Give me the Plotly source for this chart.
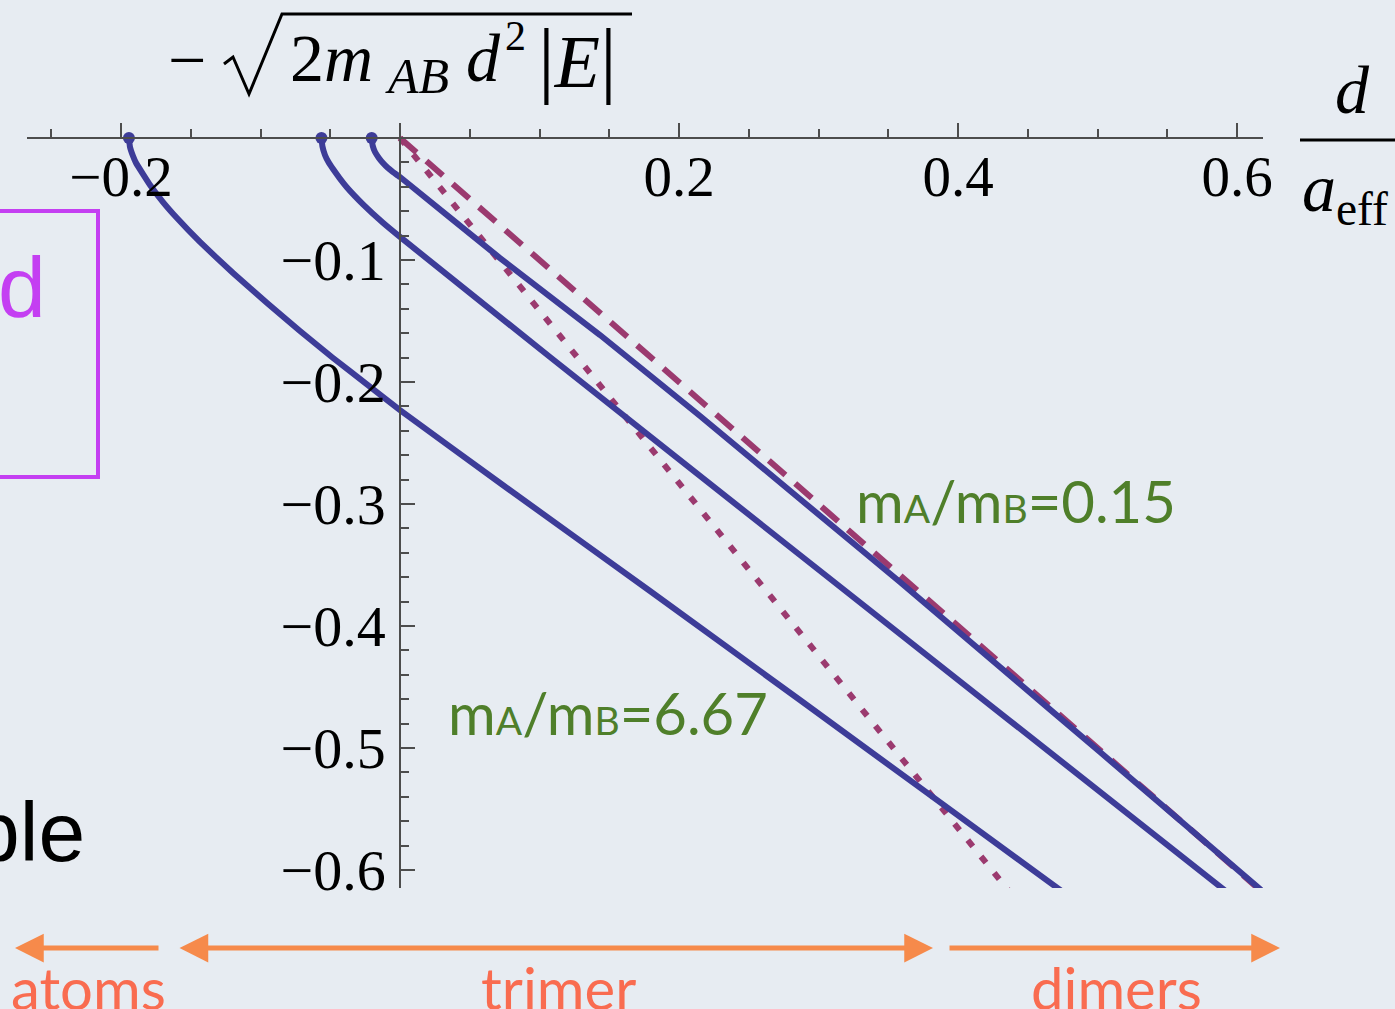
import plotly.graph_objects as go

# ---- data -------------------------------------------------------------
# trimer branches, -sqrt(2 m_AB d^2 |E|) against d/a_eff
heavy_x = [-0.1943, -0.1936, -0.1914, -0.1892, -0.1792, -0.1699, -0.1599, -0.1434,
           -0.1197, -0.0953, -0.0717, -0.0480, -0.0237, 0.0, 0.0717, 0.1792, 0.2867,
           0.4717, 0.4800]
heavy_y = [0.0, -0.0070, -0.0148, -0.0205, -0.0385, -0.0525, -0.0656, -0.0852,
           -0.1107, -0.1352, -0.1582, -0.1803, -0.2020, -0.2230, -0.2828, -0.3713, -0.4607,
           -0.6151, -0.6220]

mid_x = [-0.0563, -0.0556, -0.0538, -0.0513, -0.0480, -0.0434, -0.0380, -0.0265,
         -0.0122, 0.0, 0.1075, 0.2867, 0.5892, 0.6000]
mid_y = [0.0, -0.0069, -0.0139, -0.0197, -0.0254, -0.0328, -0.0406, -0.0544,
         -0.0695, -0.0811, -0.1795, -0.3418, -0.6148, -0.6246]

light_x = [-0.0203, -0.0196, -0.0179, -0.0153, -0.0122, -0.0088, -0.0050, 0.0, 0.0717,
           0.1434, 0.2151, 0.2867, 0.3584, 0.4301, 0.5018, 0.6165, 0.6200]
light_y = [0.0, -0.0061, -0.0115, -0.0161, -0.0205, -0.0244, -0.0279, -0.0320, -0.0984,
           -0.1615, -0.2279, -0.2959, -0.3639, -0.4336, -0.5033, -0.6156, -0.6191]

# thresholds
dimer_x = [0.0, 0.62]
dimer_y = [0.0, -0.62]
heavy_dimer_x = [0.0, 0.44]
heavy_dimer_y = [0.0, -0.6222]

# ticks
x_major = [-0.2, 0.0, 0.2, 0.4, 0.6]
x_major_text = ["\u22120.2", "", "0.2", "0.4", "0.6"]
x_minor = [-0.25, -0.15, -0.1, -0.05, 0.05, 0.1, 0.15, 0.25, 0.3, 0.35, 0.45, 0.5, 0.55]
y_major = [-0.1, -0.2, -0.3, -0.4, -0.5, -0.6]
y_major_text = ["\u22120.1", "\u22120.2", "\u22120.3", "\u22120.4", "\u22120.5", "\u22120.6"]
y_minor = [-0.02, -0.04, -0.06, -0.08, -0.12, -0.14, -0.16, -0.18, -0.22, -0.24, -0.26,
           -0.28, -0.32, -0.34, -0.36, -0.38, -0.42, -0.44, -0.46, -0.48, -0.52, -0.54,
           -0.56, -0.58]

ratio_labels = ["m<span style='font-size:39px'>A</span>/m<span style='font-size:39px'>B</span>=0.15",
                "m<span style='font-size:39px'>A</span>/m<span style='font-size:39px'>B</span>=6.67"]
region_labels = ["atoms", "trimer", "dimers"]

# ---- layout geometry --------------------------------------------------
W, H = 1395, 1009
L, R, T, B = 27, 1263, 123, 888          # plot box in pixels
X0, Y0 = 400, 138                         # pixel position of the origin
SX, SY = 1395.0, 1220.0                   # pixels per unit

x_range = [(L - X0) / SX, (R - X0) / SX]
y_range = [(Y0 - B) / SY, (Y0 - T) / SY]


def px(x):
    return (x - L) / (R - L)


def py(y):
    return (B - y) / (B - T)


BLUE = "#3d3c98"
MAROON = "#9b3a6f"
GREEN = "#4f7f2a"
ORANGE = "#f68a4b"
ORANGE_TXT = "#f96c50"
PURPLE = "#c43ff2"
AXIS = "#4d4d4d"
BG = "#e7ecf2"
SERIF = "Liberation Serif"

fig = go.Figure()

fig.add_trace(go.Scatter(x=dimer_x, y=dimer_y, mode="lines",
                         line=dict(color=MAROON, width=6, dash="22px,13px")))
fig.add_trace(go.Scatter(x=heavy_dimer_x, y=heavy_dimer_y, mode="lines",
                         line=dict(color=MAROON, width=6, dash="8px,13px")))
for xs, ys in [(heavy_x, heavy_y), (mid_x, mid_y), (light_x, light_y)]:
    fig.add_trace(go.Scatter(x=xs, y=ys, mode="lines",
                             line=dict(color=BLUE, width=6, shape="spline", smoothing=0.3)))
    fig.add_trace(go.Scatter(x=[xs[0]], y=[ys[0]], mode="markers",
                             marker=dict(color=BLUE, size=12)))

x_pos = (0 - y_range[0]) / (y_range[1] - y_range[0])
y_pos = (0 - x_range[0]) / (x_range[1] - x_range[0])

fig.update_layout(
    width=W, height=H,
    margin=dict(l=L, r=W - R, t=T, b=H - B, pad=0),
    paper_bgcolor=BG, plot_bgcolor=BG,
    showlegend=False,
    xaxis=dict(range=x_range, anchor="free", position=x_pos, showgrid=False,
               zeroline=False, showline=True, linecolor=AXIS, linewidth=1.5,
               ticks="inside", ticklen=14, tickwidth=1.5, tickcolor=AXIS,
               tickvals=x_major, ticktext=x_major_text, ticklabelstandoff=-11,
               tickfont=dict(family=SERIF, size=57, color="black"),
               minor=dict(tickvals=x_minor, ticks="inside", ticklen=8,
                          tickwidth=1.5, tickcolor=AXIS)),
    yaxis=dict(range=y_range, anchor="free", position=y_pos, showgrid=False,
               zeroline=False, showline=True, linecolor=AXIS, linewidth=1.5,
               ticks="inside", ticklen=14, tickwidth=1.5, tickcolor=AXIS,
               tickvals=y_major, ticktext=y_major_text, ticklabelstandoff=2,
               tickfont=dict(family=SERIF, size=58, color="black"),
               minor=dict(tickvals=y_minor, ticks="inside", ticklen=8,
                          tickwidth=1.5, tickcolor=AXIS)),
)

shapes = []
# radical sign of the vertical-axis label
shapes.append(dict(type="path", xref="paper", yref="paper",
                   path="M {},{} L {},{} L {},{} L {},{} L {},{}".format(
                       px(224), py(64), px(233), py(57), px(249), py(94),
                       px(282), py(14), px(632), py(14)),
                   line=dict(color="black", width=3)))
# fraction bar of the horizontal-axis label
shapes.append(dict(type="line", xref="paper", yref="paper",
                   x0=px(1300), x1=px(1400), y0=py(140), y1=py(140),
                   line=dict(color="black", width=3)))
# purple frame at left
shapes.append(dict(type="rect", xref="paper", yref="paper",
                   x0=px(-20), x1=px(98), y0=py(477), y1=py(211),
                   line=dict(color=PURPLE, width=4)))
fig.update_layout(shapes=shapes)


def note(text, x, y, size, color="black", family=SERIF, xanchor="center"):
    return dict(text=text, x=px(x), y=py(y), xref="paper", yref="paper",
                xanchor=xanchor, yanchor="middle", showarrow=False,
                font=dict(family=family, size=size, color=color))


ann = []
# vertical-axis label, set piece by piece
ann.append(note("\u2212", 187, 60, 68))
ann.append(note("2<i>m</i>", 288, 58, 68, xanchor="left"))
ann.append(note("<i>AB</i>", 383, 76, 50, xanchor="left"))
ann.append(note("<i>d</i>", 464, 58, 68, xanchor="left"))
ann.append(note("2", 503, 36, 42, xanchor="left"))
ann.append(note("<span style='font-size:84px'>|</span><i>E</i>"
                "<span style='font-size:84px'>|</span>", 536, 58, 74, xanchor="left"))
# horizontal-axis label
ann.append(note("<i>d</i>", 1352, 90, 68))
ann.append(note("<i>a</i><sub>eff</sub>", 1300, 192, 68, xanchor="left"))

ann.append(note(ratio_labels[0], 1016, 500, 58, GREEN, "Lato"))
ann.append(note(ratio_labels[1], 608, 712, 58, GREEN, "Lato"))

ann.append(note("d", 48, 287, 86, PURPLE, "Liberation Sans", xanchor="right"))
ann.append(note("ble", 87, 832, 84, "black", "Liberation Sans", xanchor="right"))

# regime arrows
arrow_style = dict(xref="paper", yref="paper", text="", showarrow=True, arrowcolor=ORANGE,
                   arrowwidth=5, arrowhead=2, arrowsize=1.15, standoff=0, ay=0)
ann.append(dict(x=px(15), y=py(948), ax=145, **arrow_style))
ann.append(dict(x=px(933), y=py(948), ax=-755, arrowside="end+start", startarrowhead=2,
                startarrowsize=1.15, startstandoff=0, **arrow_style))
ann.append(dict(x=px(1280), y=py(948), ax=-332, **arrow_style))

for label, cx in zip(region_labels, [88, 558, 1116]):
    ann.append(note(label, cx, 987, 58, ORANGE_TXT, "Lato"))

fig.update_layout(annotations=ann)

fig.write_html("out.html")
